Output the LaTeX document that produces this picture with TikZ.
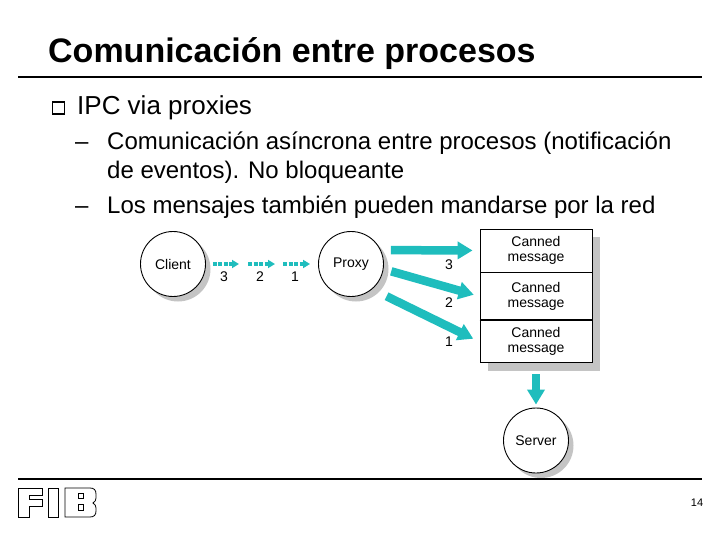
\documentclass[tikz,border=0pt]{standalone}
\usepackage{fontspec}
\setmainfont{Liberation Sans}
\usepackage{xcolor}
\usetikzlibrary{arrows.meta, positioning, shadows, backgrounds}
\definecolor{tealarrow}{HTML}{1FBDBD}
\definecolor{shadowgray}{HTML}{C4C4C4}
\tikzset{
    slidetext/.style={anchor=base west, inner sep=0pt, font=\fontsize{24}{24}\selectfont},
    process/.style={draw, circle, fill=white, line width=0.9pt, minimum size=65pt, inner sep=0pt, font=\fontsize{14}{15}\selectfont, general shadow={shadow xshift=5pt, shadow yshift=-5pt, fill=shadowgray}},
    canned/.style={draw, rectangle, fill=white, line width=0.9pt, minimum width=112pt, text width=90pt, align=center, inner sep=0pt, font=\fontsize{14}{15}\selectfont},
    tag/.style={inner sep=0pt, font=\fontsize{14}{15}\selectfont},
    bigarrow/.style={-{Triangle[length=15pt, width=17pt]}, line width=8.5pt, tealarrow},
    dotarrow/.style={-{Triangle[length=7pt, width=8pt]}, line width=3.2pt, tealarrow, dash pattern=on 4pt off 1.5pt},
    rule/.style={line width=1.8pt}
}
\begin{document}
\begin{tikzpicture}[x=1pt, y=-1pt]
    \useasboundingbox (0,0) rectangle (720,540);

    \node [anchor=base west, inner sep=0pt, font=\fontsize{34}{34}\bfseries\selectfont] (title) at (48,63) {Comunicación entre procesos};
    \coordinate (topl) at (18,77);
    \coordinate (topr) at (702,77);
    \draw [rule] (topl) -- (topr);

    \node [draw, rectangle, line width=1.1pt, minimum size=12pt, inner sep=0pt] (bullet) at (58.5,108) {};
    \node [slidetext, font=\fontsize{26}{26}\selectfont] (ipc) at (77,115) {IPC via proxies};
    \node [slidetext] (dash1) at (75,150) {–};
    \node [slidetext] (line1) at (107,150) {Comunicación asíncrona entre procesos (notificación};
    \node [slidetext] (line2) at (107,179) {de eventos). No bloqueante};
    \node [slidetext] (dash2) at (75,214) {–};
    \node [slidetext] (line3) at (107,214) {Los mensajes también pueden mandarse por la red};

    \node [process] (client) at (173,264) {Client};
    \node [process] (proxy) at (351,264) {Proxy};
    \coordinate (mid1) at (244,264);
    \coordinate (mid2) at (279,264);

    \node [canned, minimum height=43pt] (cell1) at (536,250.5) {Canned\\message};
    \node [canned, minimum height=47pt, below=0pt of cell1] (cell2) {Canned\\message};
    \node [canned, minimum height=42pt, below=0pt of cell2] (cell3) {Canned\\message};
    \coordinate (celll) at (cell3.north west);
    \coordinate (cellr) at (cell3.north east);
    \draw [line width=1.6pt] (celll) -- (cellr);
    \begin{scope}[on background layer]
        \fill [shadowgray] ([shift={(8,8)}]cell1.north west) rectangle ([shift={(8,8)}]cell3.south east);
    \end{scope}

    \node [process] (server) at (536,440.5) {Server};

    \draw [dotarrow, shorten <=7pt, shorten >=5pt] (client.east) -- (mid1);
    \draw [dotarrow, shorten <=4pt, shorten >=4pt] (mid1) -- (mid2);
    \draw [dotarrow, shorten <=4pt, shorten >=8pt] (mid2) -- (proxy.west);

    \node [tag] (c3) at (224,277) {3};
    \node [tag] (c2) at (260,277) {2};
    \node [tag] (c1) at (295,277) {1};

    \draw [bigarrow, shorten <=10pt, shorten >=7pt] (proxy.25) -- (cell1.west);
    \draw [bigarrow, shorten <=8pt, shorten >=6pt] (proxy.-9) -- (cell2.west);
    \draw [bigarrow, shorten <=16pt, shorten >=7pt] (proxy.-50) -- (cell3.west);
    \draw [bigarrow, shorten <=11pt, shorten >=3pt] (cell3.south) -- (server.north);

    \node [tag] (p3) at (449,265) {3};
    \node [tag] (p2) at (449,303) {2};
    \node [tag] (p1) at (449,342) {1};

    \coordinate (botl) at (18,479);
    \coordinate (botr) at (702,479);
    \draw [rule] (botl) -- (botr);

    % logo
    \draw [line width=0.8pt] (18,488) -- (42,488) -- (42,495) -- (29,495) -- (29,499) -- (42,499) -- (42,506) -- (29,506) -- (29,517) -- (18,517) -- cycle;
    \draw [line width=0.8pt] (48,488) rectangle (58,517);
    \draw [line width=0.8pt] (65,488) -- (90,488) .. controls (94,488) and (96,490) .. (96,494) -- (96,498) .. controls (96,500) and (95,502) .. (93,503) .. controls (95,504) and (96,506) .. (96,508) -- (96,511) .. controls (96,515) and (94,517) .. (90,517) -- (65,517) -- cycle;
    \draw [line width=0.8pt] (78,493) rectangle (83,498);
    \draw [line width=0.8pt] (78,504) rectangle (83,510);

    \node [inner sep=0pt, font=\fontsize{11}{11}\selectfont] (page) at (697,503) {14};
\end{tikzpicture}
\end{document}
